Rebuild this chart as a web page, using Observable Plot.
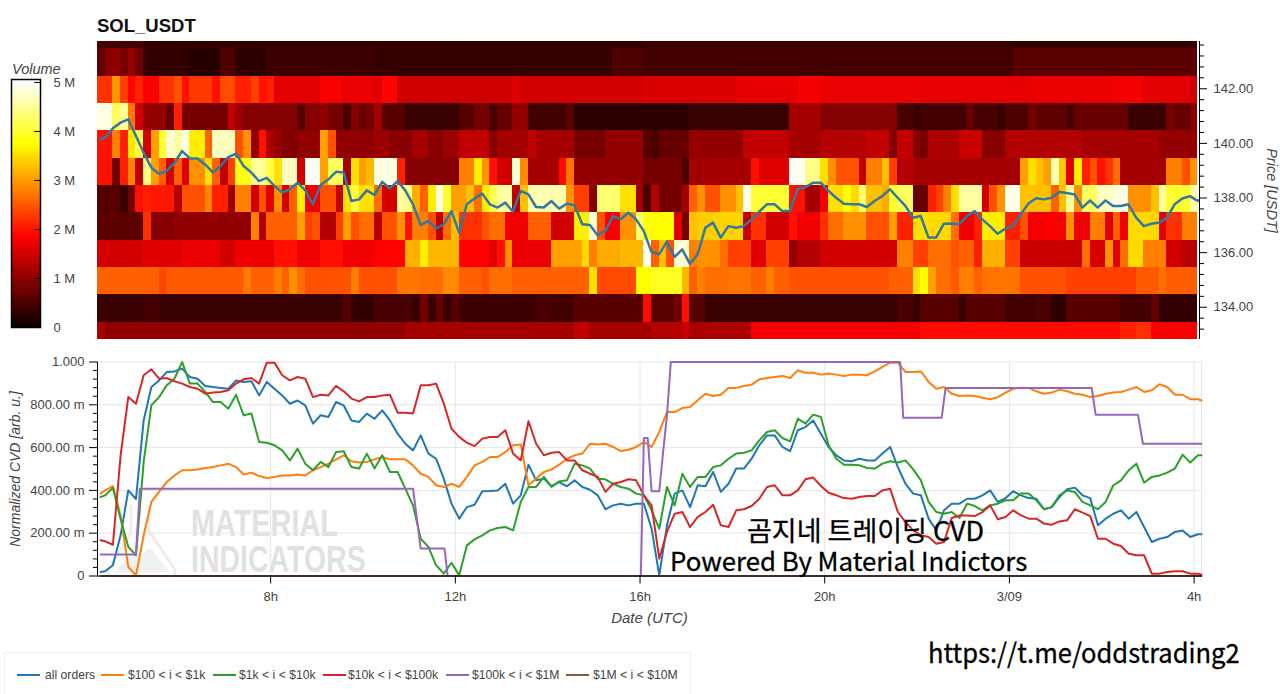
<!DOCTYPE html>
<html><head><meta charset="utf-8">
<script src="https://cdn.jsdelivr.net/npm/d3@7"></script>
<script src="https://cdn.jsdelivr.net/npm/@observablehq/plot@0.6"></script>
<style>
html,body{margin:0;padding:0;background:#fff;width:1280px;height:694px;overflow:hidden;font-family:"Liberation Sans",Arial,sans-serif;color:#444}
.abs{position:absolute;white-space:nowrap}
svg{background:transparent!important;overflow:visible}
#legend{position:absolute;left:4px;top:652px;width:687px;height:42px;border:1px solid #eee;border-bottom:none;box-sizing:border-box;font-size:12.2px;color:#444}
#legend span.sw{position:absolute;top:21px;height:2px;width:23px}
#legend span.tx{position:absolute;top:15px;line-height:14px;white-space:nowrap}
</style></head><body>
<script>
// volume per price row: [last ten-minute bin (exclusive), volume in millions]
const row143=[[6,.42],[46,.33],[71,.3],[119,.36],[143,.3]];
const row142b=[[1,.65],[2,.95],[3,1.0],[4,.8],[5,1.05],[6,.75],[12,.3],[16,.22],[18,.5],[22,.28],[36,.38],[67,.33],[71,.5],[119,.42],[143,.6]];
const row142=[[2,2.2],[3,2.95],[4,2.3],[5,1.85],[6,2.1],[8,1.8],[10,2.2],[11,2.45],[12,1.95],[15,2.25],[16,1.95],[18,2.4],[20,2.05],[21,2.3],[22,1.95],[23,2.05],[29,1.62],[32,1.78],[36,1.67],[37,1.6],[39,1.85],[54,1.47],[55,1.58],[71,1.5],[83,1.56],[91,1.64],[94,1.75],[107,1.67],[121,1.64],[132,1.68],[136,1.74],[142,1.62],[143,1.5]];
const row141=[[2,4.85],[3,4.2],[4,4.5],[5,2.75],[6,1.5],[9,1.03],[10,.7],[11,2.05],[17,.8],[18,1.37],[19,1.1],[26,.92],[27,.57],[29,.92],[30,1.0],[32,.8],[33,.46],[34,.92],[35,.7],[36,.8],[37,1.15],[40,.57],[47,.34],[49,.57],[51,.8],[52,.46],[54,.69],[56,1.03],[61,.4],[62,.57],[77,.28],[90,.34],[94,1.15],[104,.92],[106,.46],[107,.34],[113,.42],[114,.69],[117,.46],[118,.34],[121,.5],[122,.8],[126,.64],[127,.46],[134,.69],[139,.34],[140,.8],[142,.69],[143,.92]];
const row140=[[2,1.95],[3,2.78],[4,2.07],[5,3.56],[6,4.13],[7,1.5],[8,3.02],[9,3.97],[10,4.77],[11,4.53],[12,4.85],[14,3.6],[15,2.55],[18,4.68],[19,2.43],[20,2.9],[21,1.03],[22,1.95],[23,1.2],[24,1.03],[26,.9],[29,1.0],[30,3.02],[31,2.43],[36,1.0],[38,1.1],[41,.95],[43,1.15],[45,.95],[47,1.1],[51,1.37],[52,.92],[56,1.15],[57,1.37],[62,1.15],[66,.8],[71,1.03],[72,.57],[73,.46],[77,.69],[84,1.03],[90,1.37],[94,1.15],[100,1.26],[103,1.37],[104,.92],[106,1.37],[107,.92],[108,.8],[112,1.2],[115,1.43],[118,.92],[128,1.26],[138,1.15],[143,1.03]];
const row139=[[2,1.95],[3,.8],[4,2.07],[5,2.8],[6,1.37],[7,4.4],[8,3.02],[9,2.55],[10,1.5],[11,2.55],[12,1.6],[14,2.9],[15,3.5],[16,2.55],[17,1.37],[18,2.3],[20,3.85],[22,4.5],[23,4.05],[24,3.5],[26,4.7],[27,1.5],[29,4.95],[30,3.02],[32,4.2],[33,1.15],[34,3.5],[35,3.02],[36,3.2],[39,4.85],[40,2.07],[47,.92],[49,2.78],[50,3.6],[51,2.95],[52,1.95],[54,1.5],[55,4.77],[56,2.85],[60,1.15],[61,1.9],[62,2.7],[71,1.03],[76,.8],[77,.46],[85,1.15],[86,1.95],[90,1.6],[92,4.95],[94,4.4],[95,3.5],[96,2.9],[99,2.45],[100,1.37],[102,2.78],[103,3.26],[104,2.3],[106,1.26],[120,1.15],[121,3.02],[122,3.5],[123,3.26],[124,3.02],[125,4.6],[126,3.3],[127,1.6],[128,3.6],[129,2.07],[130,2.43],[131,1.95],[132,2.2],[133,2.65],[139,1.15],[141,2.78],[142,2.43],[143,2.9]];
const row138=[[3,.55],[4,.34],[5,.8],[6,1.95],[7,2.07],[10,2.0],[11,1.26],[14,2.43],[15,2.8],[17,2.07],[18,1.1],[20,2.78],[21,1.5],[22,2.43],[23,1.6],[24,2.9],[25,1.5],[26,2.55],[27,3.6],[29,1.72],[31,2.43],[32,1.37],[33,3.5],[34,4.05],[36,3.5],[37,2.65],[39,1.5],[40,4.53],[41,4.37],[42,3.14],[43,2.55],[44,3.6],[45,4.85],[46,3.97],[48,3.02],[49,3.26],[50,2.65],[51,3.6],[52,4.13],[54,4.53],[55,1.37],[56,3.26],[61,4.6],[62,2.9],[64,2.3],[65,.92],[68,4.3],[70,3.5],[71,1.15],[72,.46],[73,1.26],[76,.8],[77,1.15],[78,2.55],[79,2.9],[81,2.43],[83,2.9],[84,3.26],[85,4.9],[90,4.0],[92,1.95],[94,1.15],[95,1.72],[97,3.5],[98,3.73],[99,3.45],[100,4.3],[102,3.26],[103,3.1],[104,3.97],[106,4.2],[108,.69],[109,2.07],[110,2.31],[111,2.78],[112,3.5],[115,4.53],[116,1.5],[117,2.43],[118,2.9],[120,4.9],[124,3.26],[125,2.55],[126,3.26],[127,4.53],[128,2.9],[130,4.2],[132,4.68],[134,4.85],[137,2.9],[138,3.26],[139,4.53],[142,3.97],[143,4.53]];
const row137=[[6,.62],[7,2.19],[10,.92],[20,1.0],[21,2.78],[22,1.26],[26,2.55],[27,3.02],[28,2.31],[29,2.43],[31,1.26],[32,2.31],[33,3.02],[34,2.43],[36,2.65],[37,1.26],[39,2.43],[40,2.9],[41,1.95],[43,2.78],[44,2.43],[45,1.37],[46,2.65],[47,3.26],[50,2.19],[51,2.43],[53,2.65],[56,1.72],[59,2.55],[62,1.5],[64,3.6],[65,4.77],[66,2.43],[68,1.8],[70,2.9],[71,4.3],[72,3.8],[75,3.73],[76,1.6],[77,.8],[78,3.26],[80,3.35],[84,3.4],[85,1.37],[87,2.19],[90,1.5],[91,1.95],[94,1.72],[95,2.19],[97,2.65],[100,2.9],[103,2.43],[104,3.02],[106,2.07],[108,3.5],[111,3.45],[112,2.65],[114,1.72],[115,2.07],[118,3.6],[120,2.07],[121,2.43],[123,1.72],[126,1.78],[127,2.9],[129,1.72],[131,2.78],[132,1.6],[133,2.55],[134,1.72],[138,3.45],[139,1.6],[141,2.19],[143,2.78]];
const row136=[[6,1.5],[11,1.6],[16,1.67],[18,1.5],[23,1.71],[26,1.95],[29,1.72],[32,1.95],[36,1.72],[40,1.85],[42,3.14],[43,3.6],[47,3.2],[51,1.83],[52,1.6],[53,1.95],[54,2.9],[59,1.67],[63,3.02],[64,3.45],[65,2.78],[68,3.1],[71,3.2],[72,4.9],[73,2.55],[74,3.26],[75,2.43],[77,4.77],[78,2.78],[81,2.9],[82,2.65],[85,2.31],[87,1.6],[90,2.31],[91,1.03],[94,1.26],[104,1.5],[106,2.78],[108,2.31],[111,2.65],[112,2.43],[114,2.55],[115,2.07],[118,3.14],[120,2.31],[128,1.43],[129,2.65],[131,1.55],[132,2.9],[133,1.6],[134,2.65],[136,3.45],[139,2.78],[141,1.5],[143,1.3]];
const row135=[[8,2.55],[9,2.35],[19,2.5],[20,2.75],[23,2.55],[24,2.78],[25,2.55],[26,2.9],[27,2.65],[33,2.43],[34,2.78],[39,2.43],[42,2.72],[45,2.65],[47,2.85],[50,2.55],[51,2.43],[54,2.65],[64,2.55],[65,3.5],[70,2.37],[72,3.73],[76,3.9],[77,3.2],[78,2.55],[79,2.78],[82,2.65],[85,2.7],[87,2.55],[88,2.78],[90,2.55],[103,2.43],[106,2.55],[107,3.5],[108,3.73],[109,3.02],[111,2.65],[112,2.5],[114,2.78],[115,2.55],[120,2.7],[126,2.43],[135,2.31],[138,2.5],[139,2.65],[143,2.52]];
const row134=[[6,.34],[8,.42],[32,.34],[33,.57],[36,.3],[41,.46],[42,.34],[43,.8],[44,.34],[45,.69],[46,.34],[47,.57],[57,.38],[59,.46],[62,.4],[71,.57],[72,1.9],[75,.6],[76,.75],[77,1.95],[79,.57],[104,.34],[106,.46],[107,.34],[112,.57],[113,.34],[118,.57],[122,.42],[124,.46],[126,.28],[133,.57],[137,.42],[138,.69],[143,.3]];
const row133=[[1,1.2],[40,1.0],[62,1.15],[64,1.37],[72,1.15],[76,1.26],[77,1.43],[85,1.2],[107,1.75],[133,1.9],[135,2.07],[137,2.19],[143,1.78]];
const rowsTopDown=[row143,row142b,row142,row141,row140,row139,row138,row137,row136,row135,row134,row133];
const priceEdges=[143.73,143.46,142.46,141.46,140.46,139.46,138.46,137.46,136.46,135.46,134.46,133.46,132.82];

// mid price, one sample every ten minutes
const priceLine=[140.15,140.21,140.55,140.76,140.88,140.27,139.66,139.11,138.89,138.99,139.29,139.72,139.45,139.45,139.23,138.93,139.17,139.50,139.62,139.17,138.93,138.62,138.74,138.44,138.20,138.32,138.56,138.28,137.77,138.48,138.68,138.96,138.93,137.89,137.95,138.28,138.11,138.59,138.35,138.62,138.28,137.77,137.01,137.16,136.89,137.04,137.52,136.73,137.77,137.98,138.16,137.77,137.65,137.83,137.50,138.26,138.13,137.67,137.65,137.89,137.61,137.79,137.74,137.04,137.01,136.64,136.79,137.34,137.22,137.46,137.22,136.79,136.03,135.94,136.40,135.84,136.12,135.59,135.94,136.91,137.10,136.55,136.97,136.91,136.97,137.22,137.50,137.77,137.77,137.52,137.52,138.32,138.40,138.56,138.56,138.26,138.01,137.79,137.77,137.77,137.67,137.89,138.07,138.32,138.01,137.71,137.28,137.34,136.55,136.55,137.06,137.07,137.04,137.34,137.52,137.22,136.97,136.69,136.88,136.97,137.40,137.80,137.99,137.95,138.01,138.22,138.18,138.13,137.65,137.91,137.65,137.91,137.71,137.71,137.77,137.28,136.97,137.06,137.10,137.28,137.77,137.98,138.07,137.89,137.92];

// normalized CVD, one sample every ten minutes
const allOrders=[.019,.022,.05,.19,.40,.36,.727,.883,.914,.953,.956,.969,.93,.922,.888,.883,.879,.875,.914,.907,.91,.844,.907,.875,.844,.805,.82,.797,.712,.751,.743,.813,.797,.727,.72,.759,.735,.774,.727,.665,.618,.587,.657,.572,.548,.455,.338,.268,.322,.333,.396,.397,.40,.431,.338,.377,.52,.447,.455,.42,.439,.419,.447,.416,.403,.377,.312,.33,.338,.33,.338,.338,.221,.003,.237,.385,.40,.322,.424,.419,.486,.393,.431,.502,.502,.548,.611,.657,.657,.603,.583,.681,.696,.727,.665,.603,.564,.54,.536,.548,.54,.54,.572,.603,.509,.431,.385,.377,.268,.213,.307,.338,.338,.361,.361,.377,.40,.346,.364,.396,.377,.364,.361,.312,.322,.369,.405,.413,.377,.364,.237,.268,.291,.307,.268,.299,.229,.159,.174,.182,.206,.213,.182,.195,.195];
const size100to1k=[.385,.40,.42,.283,.042,.003,.19,.346,.393,.439,.47,.494,.494,.498,.505,.509,.517,.525,.509,.474,.483,.467,.458,.463,.47,.47,.474,.47,.494,.509,.525,.545,.564,.536,.53,.533,.545,.556,.545,.545,.545,.517,.478,.463,.424,.416,.431,.416,.463,.517,.533,.556,.556,.579,.611,.615,.424,.455,.486,.498,.52,.548,.564,.572,.618,.614,.618,.603,.584,.59,.603,.626,.603,.673,.766,.766,.785,.79,.821,.852,.841,.847,.879,.879,.888,.894,.919,.925,.93,.935,.925,.961,.95,.95,.941,.946,.941,.935,.941,.941,.938,.956,.977,.997,.997,.953,.953,.956,.907,.875,.883,.852,.841,.844,.841,.833,.826,.836,.857,.875,.88,.879,.863,.852,.857,.871,.863,.852,.847,.836,.841,.852,.857,.86,.871,.883,.86,.868,.896,.883,.847,.847,.826,.826,.82];
const size1kto10k=[.369,.377,.411,.268,.136,.097,.533,.798,.836,.891,.922,1.0,.899,.899,.86,.813,.813,.782,.847,.751,.759,.626,.623,.611,.587,.54,.595,.525,.494,.533,.509,.579,.583,.509,.502,.572,.502,.564,.486,.486,.408,.33,.174,.136,.05,.011,.062,.003,.143,.171,.19,.213,.224,.229,.213,.346,.416,.416,.463,.416,.442,.447,.525,.517,.502,.455,.452,.431,.416,.408,.385,.377,.307,.221,.416,.33,.478,.416,.463,.463,.509,.517,.548,.572,.576,.587,.634,.673,.681,.645,.629,.735,.712,.754,.743,.611,.548,.52,.52,.517,.505,.502,.525,.536,.53,.54,.498,.447,.346,.299,.291,.299,.271,.338,.327,.307,.33,.338,.354,.354,.385,.385,.354,.312,.322,.377,.40,.393,.346,.33,.312,.346,.424,.447,.494,.525,.436,.463,.47,.483,.502,.567,.53,.564,.564];
const size10kto100k=[.167,.162,.146,.564,.836,.805,.938,.966,.922,.925,.91,.899,.883,.875,.852,.857,.86,.868,.899,.919,.925,.899,.997,.997,.938,.914,.93,.922,.836,.847,.844,.888,.863,.829,.816,.836,.836,.844,.847,.763,.763,.759,.891,.891,.899,.805,.688,.65,.623,.607,.642,.65,.65,.681,.572,.54,.723,.618,.564,.576,.579,.54,.54,.494,.478,.463,.393,.431,.439,.452,.447,.377,.33,.081,.206,.291,.299,.229,.276,.299,.333,.237,.229,.307,.312,.327,.361,.416,.424,.377,.377,.40,.452,.46,.421,.389,.377,.364,.361,.369,.374,.374,.40,.408,.299,.252,.213,.19,.182,.151,.159,.271,.283,.283,.28,.299,.33,.265,.276,.307,.283,.268,.268,.245,.24,.255,.26,.312,.296,.28,.174,.174,.151,.14,.104,.097,.097,.011,.011,.019,.022,.022,.011,.011,.006];
const size100kto1mBins=[0,5,5.5,41,42,45.1,45.5,70.6,71,71.5,72,73,73.5,74,74.5,104.3,104.7,109.7,110.2,129.2,129.7,135.2,135.85,143.46];
const size100kto1m=[.101,.101,.408,.408,.128,.128,0,0,.645,.645,.396,.396,.58,.75,1,1,.74,.74,.878,.878,.754,.754,.618,.618];
const size1mto10m=[0,0];

const legendNames=["all orders","$100 < i < $1k","$1k < i < $10k","$10k < i < $100k","$100k < i < $1M","$1M < i < $10M"];
const lineColors=["#1f77b4","#ff7f0e","#2ca02c","#d62728","#9467bd","#8c564b"];
const volumeStops=[0,1.83,3.73,5];
const volumeColors=["#0a0000","#ff0000","#ffff00","#ffffff"];
const volumeTicks=[0,1,2,3,4,5];
const priceTicks=[134,136,138,140,142];
const priceMinor=[133.2,133.6,134.4,134.8,135.2,135.6,136.4,136.8,137.2,137.6,138.4,138.8,139.2,139.6,140.4,140.8,141.2,141.6,142.4,142.8,143.2,143.6];
const cvdTicks=[0,.2,.4,.6,.8,1];
const cvdLabels=["0","200.00 m","400.00 m","600.00 m","800.00 m","1.000"];
const cvdMinor=[.04,.08,.12,.16,.24,.28,.32,.36,.44,.48,.52,.56,.64,.68,.72,.76,.84,.88,.92,.96];
const timeTicks=[Date.UTC(2025,2,8,8),Date.UTC(2025,2,8,12),Date.UTC(2025,2,8,16),Date.UTC(2025,2,8,20),Date.UTC(2025,2,9,0),Date.UTC(2025,2,9,4)].map(t=>new Date(t));
const timeLabels=["8h","12h","16h","20h","3/09","4h"];

const t0=Date.UTC(2025,2,8,4,15);
const BIN=600000;
const heatEnd=new Date(t0+23.85*3600000);
const cvdEnd=new Date(t0+23.91*3600000);
const binDate=b=>new Date(t0+b*BIN);
const sampleDate=(i,end)=>new Date(Math.min(i===0?t0+240000:t0+i*BIN,+end));

const heatCells=[];
rowsTopDown.forEach((row,r)=>{let s=0;for(const [e,v] of row){heatCells.push({x1:binDate(s),x2:binDate(e),y1:priceEdges[r+1],y2:priceEdges[r],v});s=e;}});
const priceData=priceLine.map((p,i)=>({t:sampleDate(i,heatEnd),p}));

const colorScale={type:"linear",domain:volumeStops,range:volumeColors,interpolate:"rgb"};
const font={background:"transparent",fontFamily:"'Liberation Sans',Arial,sans-serif",fontSize:"13px",color:"#444"};

function place(el,left,top){el.style.position="absolute";el.style.left=left+"px";el.style.top=top+"px";document.body.appendChild(el);}
function addText(txt,left,top,css){const d=document.createElement("div");d.className="abs";d.textContent=txt;d.style.left=left+"px";d.style.top=top+"px";Object.assign(d.style,css);document.body.appendChild(d);return d;}

// watermark beneath the lower plot
const wm=document.createElementNS("http://www.w3.org/2000/svg","svg");
wm.setAttribute("width",80);wm.setAttribute("height",76);
wm.innerHTML='<path d="M27 2 L27 30 L4 66 Q2 73 9 73 L66 73 Q74 73 70 65 L45 28 L45 2" fill="none" stroke="#ececec" stroke-width="2.5"/><path d="M10 70 L30 48 L38 52 L46 44 L66 70Z" fill="#eef3f2"/>';
place(wm,104,503);
const wmCss={fontWeight:"bold",fontSize:"37px",lineHeight:"32px",color:"#e1e1e1",transformOrigin:"0 0"};
addText("MATERIAL",191,508,{...wmCss,transform:"scaleX(.78)"});
addText("INDICATORS",191,544,{...wmCss,transform:"scaleX(.77)"});

addText("SOL_USDT",97,15,{fontWeight:"bold",fontSize:"18.5px",color:"#111"});
addText("Volume",12,61,{fontStyle:"italic",fontSize:"14.5px",color:"#444"});

// colour bar
const barSteps=d3.range(0,5.06,0.02);
const bar=Plot.plot({width:100,height:270,marginLeft:11,marginRight:60,marginTop:9,marginBottom:13,style:font,
  x:{domain:[0,1],axis:null,label:null},
  y:{domain:[0,5.06],axis:null,label:null},
  color:colorScale,
  marks:[
    Plot.rect(barSteps,{x1:0,x2:1,y1:d=>d,y2:d=>d+0.022,fill:d=>d,shapeRendering:"crispEdges"}),
    Plot.ruleY(volumeTicks.slice(1),{x1:.8,x2:1,stroke:"#000"}),
    Plot.frame({stroke:"#000",strokeWidth:1.5}),
    Plot.axisY(volumeTicks,{anchor:"right",label:null,tickSize:0,tickPadding:13,tickFormat:d=>d===0?"0":d+" M",fontSize:13})
  ]});
place(bar,0,70);

// heat map + price
const heat=Plot.plot({width:1280,height:310,marginLeft:97,marginRight:82,marginTop:6,marginBottom:6,style:font,
  x:{type:"utc",domain:[new Date(t0),heatEnd],axis:null,label:null},
  y:{domain:[priceEdges[12],priceEdges[0]],axis:null,label:null},
  color:colorScale,
  marks:[
    Plot.rect(heatCells,{x1:"x1",x2:"x2",y1:"y1",y2:"y2",fill:"v",shapeRendering:"crispEdges"}),
    Plot.line(priceData,{x:"t",y:"p",stroke:"#33789f",strokeWidth:2.5,curve:"linear"}),
    Plot.ruleX([heatEnd],{stroke:"#000",dx:1}),
    Plot.axisY(priceMinor,{anchor:"right",label:null,tickSize:4,tickFormat:()=>"",stroke:"#000",dx:1}),
    Plot.axisY(priceTicks,{anchor:"right",label:null,tickSize:7,tickPadding:7,tickFormat:d=>d.toFixed(2),stroke:"#000",dx:1,fontSize:13}),
    Plot.text(["Price [USDT]"],{frameAnchor:"right",textAnchor:"middle",rotate:90,dx:73,fontStyle:"italic",fontSize:14.5,fill:"#444"})
  ]});
place(heat,0,35);

// CVD lines
const seriesData=[[allOrders,0],[size100to1k,1],[size1kto10k,2],[size10kto100k,3]].flatMap(([vals,k])=>vals.map((v,i)=>({t:sampleDate(i,cvdEnd),v,k})));
const purpleData=size100kto1m.map((v,i)=>({t:i===0?sampleDate(0,cvdEnd):binDate(size100kto1mBins[i]),v}));
const brownData=size1mto10m.map((v,i)=>({t:i?cvdEnd:sampleDate(0,cvdEnd),v}));
const cvd=Plot.plot({width:1280,height:290,marginLeft:97,marginRight:79,marginTop:11.5,marginBottom:64.5,style:font,
  x:{type:"utc",domain:[new Date(t0),cvdEnd],axis:null,label:null},
  y:{domain:[0,1],axis:null,label:null},
  marks:[
    Plot.ruleX(timeTicks,{stroke:"#e6e6e6"}),
    Plot.ruleX([cvdEnd],{stroke:"#e6e6e6"}),
    Plot.ruleY(cvdTicks,{stroke:"#e6e6e6"}),
    Plot.line(seriesData,{x:"t",y:"v",z:"k",stroke:d=>lineColors[d.k],strokeWidth:2,curve:"linear"}),
    Plot.line(purpleData,{x:"t",y:"v",stroke:lineColors[4],strokeWidth:2}),
    Plot.line(brownData,{x:"t",y:"v",stroke:lineColors[5],strokeWidth:2}),
    Plot.frame({anchor:"left",stroke:"#000"}),
    Plot.frame({anchor:"bottom",stroke:"#000"}),
    Plot.axisY(cvdMinor,{anchor:"left",label:null,tickSize:4,tickFormat:()=>"",stroke:"#000"}),
    Plot.axisY(cvdTicks,{anchor:"left",label:null,tickSize:8,tickPadding:5,tickFormat:d=>cvdLabels[cvdTicks.indexOf(d)],stroke:"#000",fontSize:13}),
    Plot.axisX(timeTicks,{anchor:"bottom",label:null,tickSize:8,tickPadding:8,tickFormat:d=>timeLabels[timeTicks.findIndex(t=>+t===+d)],stroke:"#000",fontSize:13}),
    Plot.text(["Date (UTC)"],{frameAnchor:"bottom",dy:47,fontStyle:"italic",fontSize:15,fill:"#444"}),
    Plot.text(["Normalized CVD [arb. u.]"],{frameAnchor:"left",textAnchor:"middle",rotate:-90,dx:-82,fontStyle:"italic",fontSize:14,fill:"#444"})
  ]});
place(cvd,0,350);

// overlaid captions
const cap={fontFamily:"'Noto Sans CJK KR','Noto Sans',sans-serif",color:"#000",transformOrigin:"0 50%",webkitTextStroke:"0.3px #000"};
addText("곰지네 트레이딩 CVD",747,516,{...cap,fontSize:"27px",lineHeight:"28px"});
addText("Powered By Material Indictors",670,546,{...cap,fontSize:"25.8px",lineHeight:"28px"});
addText("https://t.me/oddstrading2",928,634,{...cap,fontSize:"27px",lineHeight:"36px",transform:"scaleX(.945)"});

// legend
const legend=document.createElement("div");legend.id="legend";
const swatchX=[12,96,208,318,441,561];const textX=[40,123,234,343,467,588];
legendNames.forEach((n,i)=>{
  const s=document.createElement("span");s.className="sw";s.style.left=swatchX[i]+"px";s.style.background=lineColors[i];legend.appendChild(s);
  const t=document.createElement("span");t.className="tx";t.style.left=textX[i]+"px";t.textContent=n;legend.appendChild(t);
});
document.body.appendChild(legend);
</script>
</body></html>
